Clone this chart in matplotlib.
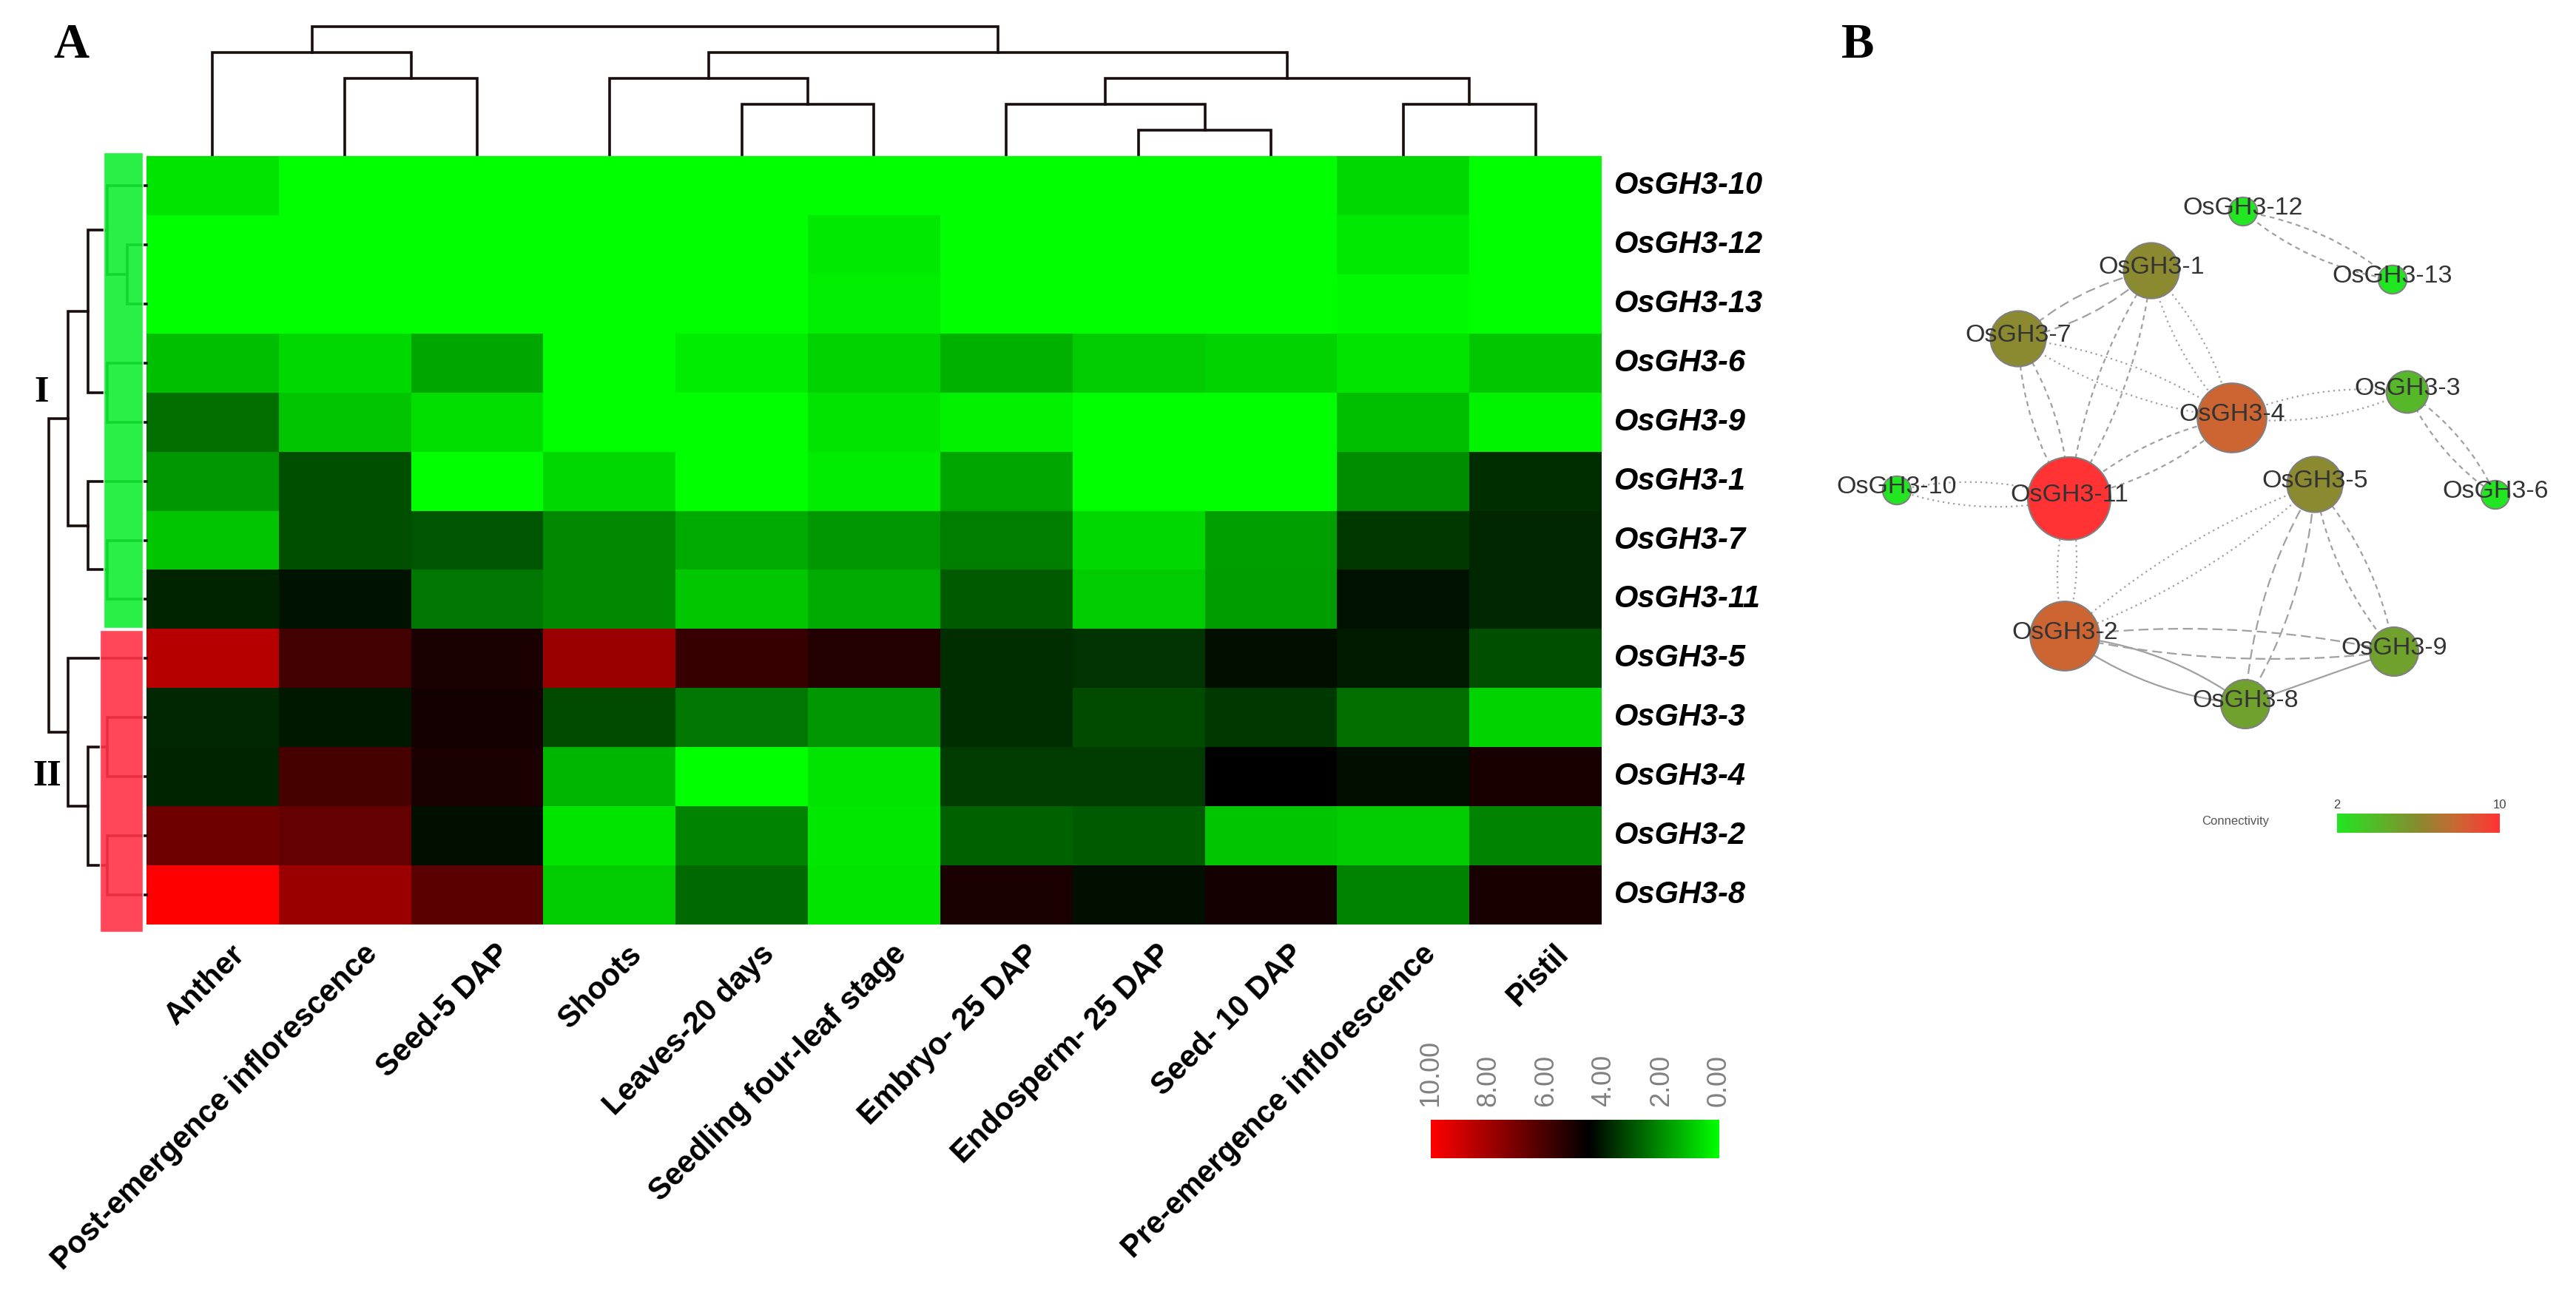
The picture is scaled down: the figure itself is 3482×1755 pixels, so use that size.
import numpy as np
import matplotlib
matplotlib.use("Agg")
import matplotlib.pyplot as plt
from matplotlib.colors import LinearSegmentedColormap, Normalize
from matplotlib.patches import Rectangle, Circle, PathPatch
from matplotlib.path import Path

W, H = 3482, 1755

# ---- panel A data -------------------------------------------------------
tissues = ["Anther", "Post-emergence inflorescence", "Seed-5 DAP", "Shoots",
           "Leaves-20 days", "Seedling four-leaf stage", "Embryo- 25 DAP",
           "Endosperm- 25 DAP", "Seed- 10 DAP", "Pre-emergence inflorescence",
           "Pistil"]
genes = ["OsGH3-10", "OsGH3-12", "OsGH3-13", "OsGH3-6", "OsGH3-9", "OsGH3-1",
         "OsGH3-7", "OsGH3-11", "OsGH3-5", "OsGH3-3", "OsGH3-4", "OsGH3-2",
         "OsGH3-8"]

expr_10 = [0.5, 0, 0, 0, 0, 0, 0, 0, 0, 0.7, 0]
expr_12 = [0, 0, 0, 0, 0, 0.4, 0, 0, 0, 0.4, 0]
expr_13 = [0, 0, 0, 0, 0, 0.3, 0, 0, 0, 0.1, 0]
expr_6 = [1.15, 0.7, 1.6, 0, 0.35, 0.8, 1.4, 0.9, 0.8, 0.5, 1.0]
expr_9 = [2.55, 1.05, 0.6, 0, 0, 0.5, 0.25, 0, 0, 1.15, 0.2]
expr_1 = [1.85, 3.1, 0, 0.7, 0, 0.35, 1.6, 0, 0, 2.0, 3.7]
expr_7 = [1.05, 3.1, 3.0, 2.1, 1.5, 1.85, 2.3, 0.7, 1.7, 3.5, 3.8]
expr_11 = [3.9, 4.15, 2.4, 2.1, 1.0, 1.5, 2.9, 0.9, 1.75, 4.2, 3.8]
expr_5 = [8.4, 5.9, 5.05, 7.85, 5.7, 5.25, 3.7, 3.6, 4.25, 4.05, 3.1]
expr_3 = [3.8, 4.1, 4.9, 3.2, 2.4, 1.85, 3.7, 3.2, 3.5, 2.55, 0.8]
expr_4 = [3.9, 6.0, 5.05, 1.3, 0, 0.5, 3.45, 3.45, 4.5, 4.25, 5.0]
expr_2 = [6.9, 6.65, 4.25, 0.5, 2.2, 0.45, 2.8, 2.9, 1.05, 0.9, 2.2]
expr_8 = [10, 7.85, 6.45, 0.9, 2.65, 0.5, 5.05, 4.25, 4.95, 2.2, 5.0]

# merges (left id, right id, level); leaves 0..n-1, new clusters n, n+1, ...
col_merges = [(1, 2, 3), (0, 11, 4), (4, 5, 2), (3, 13, 3), (7, 8, 1),
              (6, 15, 2), (9, 10, 2), (16, 17, 3), (14, 18, 4), (12, 19, 5)]
row_merges = [(1, 2, 1), (0, 13, 2), (3, 4, 2), (14, 15, 3), (6, 7, 2),
              (5, 17, 3), (16, 18, 4), (9, 10, 2), (11, 12, 2), (20, 21, 3),
              (8, 22, 4), (19, 23, 5)]
cluster_names = ["I", "II"]
cluster_rows = [(0, 8), (8, 13)]
cbar_ticks = [10, 8, 6, 4, 2, 0]

# ---- panel B data -------------------------------------------------------
nodes = ["OsGH3-12", "OsGH3-13", "OsGH3-1", "OsGH3-7", "OsGH3-4", "OsGH3-3",
         "OsGH3-10", "OsGH3-11", "OsGH3-5", "OsGH3-6", "OsGH3-2", "OsGH3-9",
         "OsGH3-8"]
node_x = [582, 784, 458, 278, 567, 804, 114, 347, 679, 923, 341, 786, 585]
node_y = [86, 178, 166, 258, 365, 330, 463, 474, 455, 469, 660, 681, 752]
edges = [("OsGH3-12", "OsGH3-13", "dash", 2), ("OsGH3-1", "OsGH3-7", "long", 2),
         ("OsGH3-1", "OsGH3-4", "dot", 2), ("OsGH3-1", "OsGH3-11", "dash", 2),
         ("OsGH3-7", "OsGH3-4", "dot", 2), ("OsGH3-7", "OsGH3-11", "dash", 2),
         ("OsGH3-4", "OsGH3-11", "dash", 2), ("OsGH3-4", "OsGH3-3", "dot", 2),
         ("OsGH3-3", "OsGH3-6", "dash", 2), ("OsGH3-10", "OsGH3-11", "dot", 2),
         ("OsGH3-11", "OsGH3-2", "dot", 2), ("OsGH3-5", "OsGH3-2", "dot", 2),
         ("OsGH3-5", "OsGH3-8", "long", 2), ("OsGH3-5", "OsGH3-9", "dash", 2),
         ("OsGH3-2", "OsGH3-9", "long", 2), ("OsGH3-2", "OsGH3-8", "solid", 2),
         ("OsGH3-8", "OsGH3-9", "solid", 1)]


def px_rect(x0, y0, x1, y1):
    return [x0 / W, 1 - y1 / H, (x1 - x0) / W, (y1 - y0) / H]


def dendro_segments(merges, n_leaves):
    pos = {i: i + 0.5 for i in range(n_leaves)}
    hgt = {i: 0.0 for i in range(n_leaves)}
    segs = []
    for k, (a, b, h) in enumerate(merges):
        segs.append([(pos[a], hgt[a]), (pos[a], h), (pos[b], h), (pos[b], hgt[b])])
        pos[n_leaves + k] = (pos[a] + pos[b]) / 2
        hgt[n_leaves + k] = h
    return segs


data = np.array([expr_10, expr_12, expr_13, expr_6, expr_9, expr_1, expr_7,
                 expr_11, expr_5, expr_3, expr_4, expr_2, expr_8])
n_rows, n_cols = data.shape

heat_cmap = LinearSegmentedColormap.from_list(
    "rg", [(0, "#00ff00"), (0.45, "#000000"), (1, "#ff0000")])

plt.rcParams['font.family'] = ['Liberation Sans', 'DejaVu Sans']
fig = plt.figure(figsize=(W / 100, H / 100), dpi=100)

# heatmap
hx0, hy0, hx1, hy1 = 198, 211, 2165, 1250
ax = fig.add_axes(px_rect(hx0, hy0, hx1, hy1))
ax.pcolormesh(np.arange(n_cols + 1), np.arange(n_rows + 1), data,
              cmap=heat_cmap, vmin=0, vmax=10)
ax.set_xlim(0, n_cols)
ax.set_ylim(n_rows, 0)
ax.axis("off")
cw = (hx1 - hx0) / n_cols
rh = (hy1 - hy0) / n_rows
for i, g in enumerate(genes):
    ax.text(n_cols + 17 / cw, i + 0.5, g, ha="left", va="center",
            fontsize=30, fontweight="bold", fontstyle="italic", clip_on=False)
for j, t in enumerate(tissues):
    ax.text(j + 0.5 + 38 / cw, n_rows + 34 / rh, t, ha="right", va="center",
            rotation=45, rotation_mode="anchor", fontsize=30,
            fontweight="bold", clip_on=False)

# column dendrogram
step_c = 35
axc = fig.add_axes(px_rect(hx0, 25, hx1, hy0))
for s in dendro_segments(col_merges, n_cols):
    xs, ys = zip(*s)
    axc.plot(xs, ys, color="#1a0d0d", lw=2.6, solid_joinstyle="miter")
axc.set_xlim(0, n_cols)
axc.set_ylim(0, (hy0 - 25) / step_c)
axc.axis("off")

# row dendrogram with cluster boxes
step_r = 26.5
axr = fig.add_axes(px_rect(30, hy0, hx0, hy1))
for s in dendro_segments(row_merges, n_rows):
    ys, xs = zip(*s)
    axr.plot(xs, ys, color="#1a0d0d", lw=2.6, solid_joinstyle="miter",
             clip_on=False)
axr.set_xlim((hx0 - 30) / step_r, 0)
axr.set_ylim(n_rows, 0)
axr.axis("off")
box_cols = ["#11ee33", "#ff3347"]
box_left = [(hx0 - 140) / step_r, (hx0 - 135) / step_r]
box_right = (hx0 - 193) / step_r
box_pad = [(-0.06, -0.02), (0.02, 0.12)]
for (r0, r1), col, bl, (p0, p1) in zip(cluster_rows, box_cols, box_left, box_pad):
    axr.add_patch(Rectangle((box_right, r0 + p0), bl - box_right,
                            (r1 + p1) - (r0 + p0), facecolor=col,
                            edgecolor="white", lw=1, alpha=0.9, zorder=3,
                            clip_on=False))
for name, yc, xc in zip(cluster_names, [531, 1050], [56, 64]):
    fig.text(xc / W, 1 - yc / H, name, ha="center", va="center",
             fontsize=36, fontweight="bold", family="Liberation Serif")

# colour scale
axb = fig.add_axes(px_rect(1934, 1514, 2323, 1566))
axb.imshow(np.linspace(0, 10, 256).reshape(1, -1), cmap=heat_cmap,
           extent=(0, 10, 0, 1), aspect="auto", vmin=0, vmax=10)
axb.set_xlim(10, 0)
axb.set_ylim(0, 1)
axb.axis("off")
for v in cbar_ticks:
    axb.text(v, 1 + 18 / 52, f"{v:.2f}", rotation=90, ha="center",
             va="bottom", color="#808080", fontsize=26, clip_on=False)

# panel letters
fig.text(96 / W, 1 - 62 / H, "A", ha="center", va="center", fontsize=48,
         fontweight="bold", family="Liberation Serif")
fig.text(2511 / W, 1 - 62 / H, "B", ha="center", va="center", fontsize=48,
         fontweight="bold", family="Liberation Serif")

# ---- panel B: network ---------------------------------------------------
conn_cmap = LinearSegmentedColormap.from_list(
    "conn", [(0, "#22e622"), (0.5, "#8a8a30"), (0.75, "#cc6633"), (1, "#ff3333")])
conn_norm = Normalize(2, 10)
idx = {n: k for k, n in enumerate(nodes)}
conn = np.zeros(len(nodes))
for a, b, _, nl in edges:
    conn[idx[a]] += nl
    conn[idx[b]] += nl

styles = {"dot": (0, (1, 2.2)), "dash": (0, (3, 2.5)), "long": (0, (6, 3)),
          "solid": "solid"}
axn = fig.add_axes(px_rect(2450, 200, 3482, 1160))
axn.set_xlim(0, 1032)
axn.set_ylim(960, 0)
axn.axis("off")
for a, b, st, nl in edges:
    p0 = np.array([node_x[idx[a]], node_y[idx[a]]], float)
    p1 = np.array([node_x[idx[b]], node_y[idx[b]]], float)
    d = p1 - p0
    L = np.hypot(*d)
    perp = np.array([-d[1], d[0]]) / L
    offs = [0.0] if nl == 1 else [-1, 1]
    bend = np.clip(0.07 * L, 10, 19)
    for o in offs:
        ctrl = (p0 + p1) / 2 + perp * o * bend * 2
        path = Path([p0, ctrl, p1], [Path.MOVETO, Path.CURVE3, Path.CURVE3])
        axn.add_patch(PathPatch(path, fill=False, edgecolor="#a0a0a0",
                                lw=1.6, linestyle=styles[st], zorder=1))
for k, n in enumerate(nodes):
    r = 10 + 4.6 * conn[k]
    axn.add_patch(Circle((node_x[k], node_y[k]), r,
                         facecolor=conn_cmap(conn_norm(conn[k])),
                         edgecolor="#808080", lw=1.5, zorder=2))
    axn.text(node_x[k], node_y[k] - 4, n, ha="center", va="center",
             fontsize=24.5, color="#333333", zorder=3)

# connectivity legend
axl = fig.add_axes(px_rect(3159, 1100, 3379, 1126))
axl.imshow(np.linspace(2, 10, 256).reshape(1, -1), cmap=conn_cmap,
           extent=(2, 10, 0, 1), aspect="auto", vmin=2, vmax=10)
axl.set_xlim(2, 10)
axl.set_ylim(0, 1)
axl.axis("off")
for v in [2, 10]:
    axl.text(v, 1.15, str(v), ha="center", va="bottom", fontsize=12,
             color="#444444", clip_on=False)
fig.text(2976 / W, 1 - 1111 / H, "Connectivity", ha="left", va="center",
         fontsize=12, color="#555555")

fig.savefig("out.png", dpi=100, facecolor="white")
